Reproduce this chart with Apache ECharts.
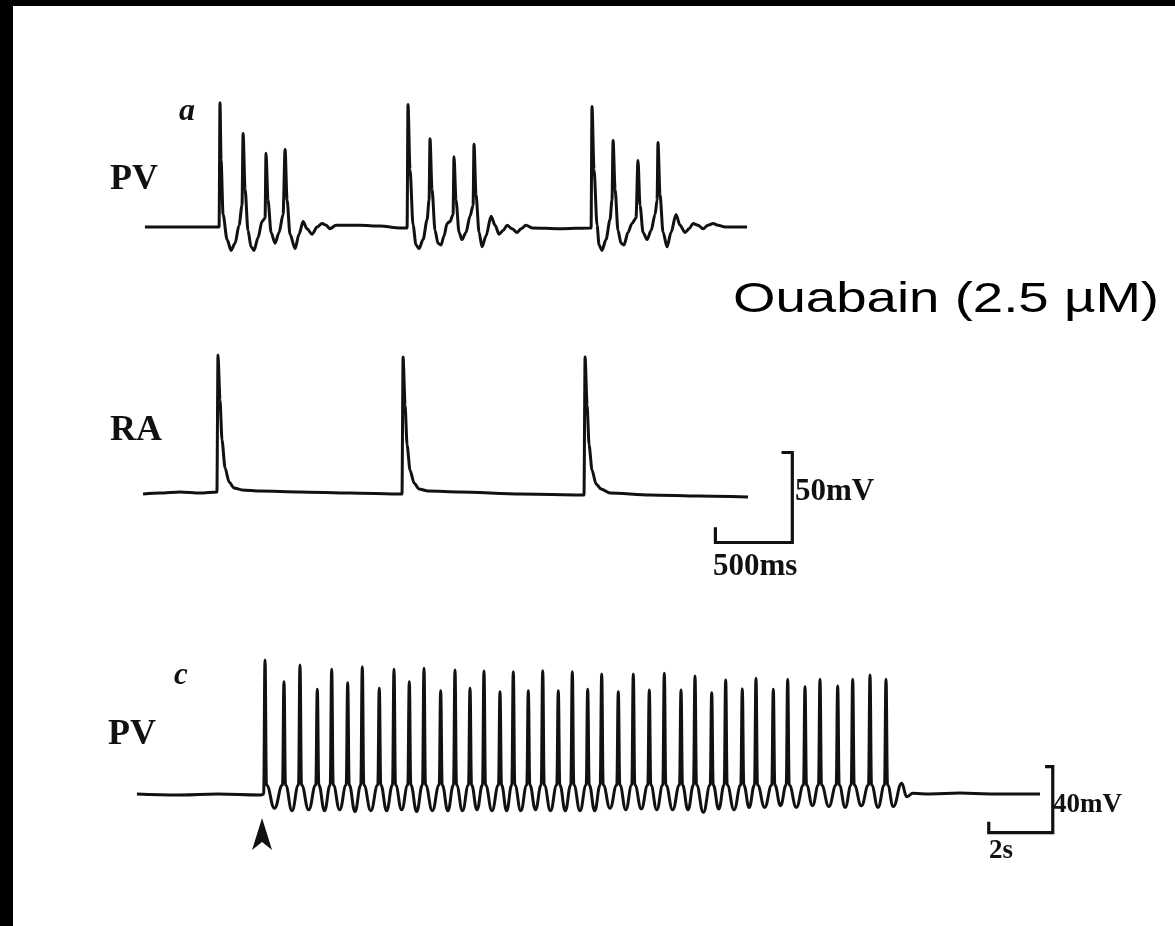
<!DOCTYPE html>
<html>
<head>
<meta charset="utf-8">
<title>Ouabain PV / RA traces</title>
<script src="https://cdn.jsdelivr.net/npm/echarts@6/dist/echarts.min.js"></script>
<style>
  html, body { margin: 0; padding: 0; background: #fff; }
  #chart { width: 1175px; height: 926px; }
</style>
</head>
<body>
<div id="chart"></div>
<script>
// panel a, pulmonary vein (time ms, potential mV)
const pvA = [
  [32, -70], [514, -70], [520, -1], [527, -33], [540, -63], [566, -77], [592, -83], [618, -79],
  [644, -69], [663, -58], [670, -18], [683, -49], [702, -72], [722, -81], [741, -83], [767, -76],
  [793, -67], [813, -65], [819, -29], [832, -55], [852, -73], [878, -79], [904, -73], [930, -63],
  [943, -27], [956, -55], [975, -74], [1008, -82], [1034, -74], [1060, -67], [1086, -71], [1118, -74],
  [1151, -70], [1183, -68], [1209, -69], [1235, -71], [1274, -69], [1430, -69], [1560, -69.5],
  [1690, -70.5], [1736, -70.5],
  [1742, -2], [1755, -38], [1775, -69], [1794, -80], [1814, -82], [1840, -77], [1866, -66],
  [1879, -55], [1885, -21], [1898, -49], [1918, -72], [1937, -79], [1957, -80], [1976, -75],
  [1996, -68], [2015, -67], [2035, -63], [2041, -31], [2054, -55], [2074, -73], [2093, -77],
  [2119, -73], [2145, -64], [2165, -58], [2171, -24], [2184, -52], [2204, -73], [2223, -81],
  [2249, -75], [2282, -64], [2308, -69], [2334, -74], [2360, -72], [2386, -69], [2418, -71],
  [2451, -73], [2477, -71], [2509, -69], [2548, -70.5], [2730, -71], [2932, -70.5],
  [2938, -3], [2951, -38], [2971, -69], [2984, -80], [3003, -83], [3029, -77], [3055, -66],
  [3068, -55], [3075, -22], [3088, -49], [3107, -72], [3127, -79], [3146, -80], [3172, -73],
  [3198, -68], [3224, -65], [3237, -33], [3250, -58], [3270, -73], [3296, -77], [3322, -72],
  [3348, -63], [3361, -55], [3367, -23], [3380, -52], [3400, -73], [3426, -81], [3452, -73],
  [3484, -63], [3510, -69], [3543, -73], [3569, -71], [3595, -68], [3627, -69], [3660, -71],
  [3692, -69], [3725, -68], [3757, -69], [3803, -70], [3946, -70]
];

// panel a, right atrium
const raA = [
  [20, -70.6], [130, -70], [260, -69.4], [390, -70], [500, -69.4], [507, 6.7], [520, -18.3],
  [533, -40.6], [553, -56.1], [579, -63.9], [611, -67.2], [663, -68.3], [780, -68.9],
  [1040, -69.4], [1365, -70], [1703, -70.6], [1710, 5.6], [1723, -21.1], [1736, -43.3],
  [1755, -57.2], [1781, -64.4], [1814, -67.8], [1872, -68.9], [2080, -69.4], [2470, -70.6],
  [2886, -71.1], [2893, 5.6], [2906, -21.1], [2919, -43.3], [2938, -57.2], [2964, -65],
  [2997, -67.8], [3055, -70], [3315, -71.1], [3640, -71.7], [3952, -72.2]
];

// 500 ms / 50 mV calibration bracket
const scaleBarA = [[3740, -89], [3740, -97.5], [4240, -97.5], [4240, -47.5], [4170, -47.5]];

// panel c, pulmonary vein with ouabain (time s, potential mV)
const pvC = [
  [0.06, -69.4], [1.41, -70], [2.59, -69.4], [3.91, -70], [4.02, -69.5],
  [4.063, 11.8], [4.109, -64], [4.359, -78],
  [4.609, -64], [4.656, -1.3], [4.703, -64], [4.906, -79.5],
  [5.109, -64], [5.156, 8.8], [5.203, -64], [5.427, -79],
  [5.65, -64], [5.697, -5.9], [5.744, -64], [5.922, -79.5],
  [6.1, -64], [6.147, 6.2], [6.194, -64], [6.397, -79],
  [6.6, -64], [6.647, -1.9], [6.694, -64], [6.875, -80],
  [7.056, -64], [7.103, 7.8], [7.15, -64], [7.369, -79.5],
  [7.587, -64], [7.634, -5.3], [7.681, -64], [7.864, -79.5],
  [8.047, -64], [8.094, 6.2], [8.141, -64], [8.333, -79],
  [8.525, -64], [8.572, -1.3], [8.619, -64], [8.802, -80],
  [8.984, -64], [9.031, 6.8], [9.078, -64], [9.292, -79.5],
  [9.506, -64], [9.553, -6.8], [9.6, -64], [9.777, -79.5],
  [9.953, -64], [10.0, 5.8], [10.047, -64], [10.234, -79.5],
  [10.422, -64], [10.469, -5.3], [10.516, -64], [10.688, -79],
  [10.859, -64], [10.906, 5.2], [10.953, -64], [11.156, -79.5],
  [11.359, -64], [11.406, -7.4], [11.453, -64], [11.614, -79.5],
  [11.775, -64], [11.822, 4.7], [11.869, -64], [12.056, -79.5],
  [12.244, -64], [12.291, -6.8], [12.338, -64], [12.516, -79],
  [12.694, -64], [12.741, 5.3], [12.788, -64], [12.984, -79.5],
  [13.181, -64], [13.228, -6.8], [13.275, -64], [13.447, -79.5],
  [13.619, -64], [13.666, 4.7], [13.713, -64], [13.906, -79.5],
  [14.1, -64], [14.147, -5.9], [14.194, -64], [14.366, -79.5],
  [14.537, -64], [14.584, 3.3], [14.631, -64], [14.844, -78],
  [15.056, -64], [15.103, -7.4], [15.15, -64], [15.338, -79],
  [15.525, -64], [15.572, 3.3], [15.619, -64], [15.822, -78.5],
  [16.025, -64], [16.072, -6.4], [16.119, -64], [16.306, -79],
  [16.494, -64], [16.541, 3.8], [16.588, -64], [16.802, -79],
  [17.016, -64], [17.063, -6.4], [17.109, -64], [17.281, -79],
  [17.453, -64], [17.5, 2.1], [17.547, -64], [17.761, -80.5],
  [17.975, -64], [18.022, -8], [18.069, -64], [18.241, -78.5],
  [18.412, -64], [18.459, -0.3], [18.506, -64], [18.719, -79],
  [18.931, -64], [18.978, -5.8], [19.025, -64], [19.192, -77.5],
  [19.359, -64], [19.406, 0.7], [19.453, -64], [19.677, -77.5],
  [19.9, -64], [19.947, -5.9], [19.994, -64], [20.172, -76.5],
  [20.35, -64], [20.397, 0.1], [20.444, -64], [20.667, -77.5],
  [20.891, -64], [20.938, -4.4], [20.984, -64], [21.172, -76.5],
  [21.359, -64], [21.406, 0.1], [21.453, -64], [21.683, -77],
  [21.912, -64], [21.959, -3.9], [22.006, -64], [22.194, -77.5],
  [22.381, -64], [22.428, 0.1], [22.475, -64], [22.698, -76.5],
  [22.922, -64], [22.969, 2.7], [23.016, -64], [23.219, -77.5],
  [23.422, -64], [23.469, 0.1], [23.516, -64], [23.697, -77],
  [23.959, -62.9], [24.116, -71], [24.313, -69], [24.844, -69.4], [25.781, -68.8],
  [26.719, -69.4], [28.281, -69.4]
];

// 2 s / 40 mV calibration bracket
const scaleBarC = [[26.68, -86.2], [26.68, -92.8], [28.68, -92.8], [28.68, -52.8], [28.44, -52.8]];

// ouabain application marker
const arrowMark = [[3.97, -84]];

const INK = "#111";
const SERIF = "'Liberation Serif', 'DejaVu Serif', serif";

const chart = echarts.init(document.getElementById("chart"));

function hiddenAxis(idx, min, max) {
  return { gridIndex: idx, type: "value", min, max, show: false };
}

function trace(idx, data, smooth) {
  return {
    type: "line",
    xAxisIndex: idx,
    yAxisIndex: idx,
    data,
    showSymbol: false,
    smooth: smooth,
    smoothMonotone: "x",
    lineStyle: { color: INK, width: 3, join: "round" },
    silent: true,
  };
}

function bar(idx, data) {
  return {
    type: "line",
    xAxisIndex: idx,
    yAxisIndex: idx,
    data,
    showSymbol: false,
    lineStyle: { color: INK, width: 3.2, join: "miter", cap: "butt" },
    silent: true,
  };
}

function label(text, x, y, size, extra) {
  return {
    type: "text",
    x,
    y,
    style: Object.assign(
      {
        text,
        fill: INK,
        font: "bold " + size + "px " + SERIF,
        verticalAlign: "middle",
      },
      extra || {}
    ),
  };
}

chart.setOption({
  animation: false,
  backgroundColor: "#fff",
  grid: [
    { left: 140, top: 83, width: 720, height: 180 },
    { left: 140, top: 331, width: 720, height: 234 },
    { left: 135, top: 646.5, width: 992, height: 198 },
  ],
  xAxis: [hiddenAxis(0, 0, 4680), hiddenAxis(1, 0, 4680), hiddenAxis(2, 0, 31)],
  yAxis: [hiddenAxis(0, -90, 10), hiddenAxis(1, -110, 20), hiddenAxis(2, -100, 20)],
  series: [
    trace(0, pvA, 0.3),
    trace(1, raA, 0.25),
    bar(1, scaleBarA),
    trace(2, pvC, 0.45),
    bar(2, scaleBarC),
    {
      type: "scatter",
      xAxisIndex: 2,
      yAxisIndex: 2,
      data: arrowMark,
      symbol: "arrow",
      symbolSize: [15, 32],
      itemStyle: { color: INK, opacity: 1 },
      silent: true,
    },
  ],
  graphic: [
    { type: "rect", shape: { x: 0, y: 0, width: 1175, height: 6 }, style: { fill: "#000" } },
    { type: "rect", shape: { x: 0, y: 0, width: 13, height: 926 }, style: { fill: "#000" } },
    label("a", 179, 112, 32, { font: "italic bold 32px " + SERIF }),
    label("PV", 110, 180, 36),
    label("RA", 110, 431, 36),
    label("50mV", 795, 492, 31),
    label("500ms", 713, 567, 31),
    label("c", 174, 676, 31, { font: "italic bold 31px " + SERIF }),
    label("PV", 108, 735, 36),
    label("40mV", 1053, 805, 27),
    label("2s", 989, 851, 27),
    {
      type: "text",
      x: 733,
      y: 300,
      scaleX: 1.27,
      style: {
        text: "Ouabain (2.5 \u00b5M)",
        fill: "#000",
        font: "43px 'Liberation Sans', Arial, sans-serif",
        verticalAlign: "middle",
      },
    },
  ],
});
</script>
</body>
</html>
